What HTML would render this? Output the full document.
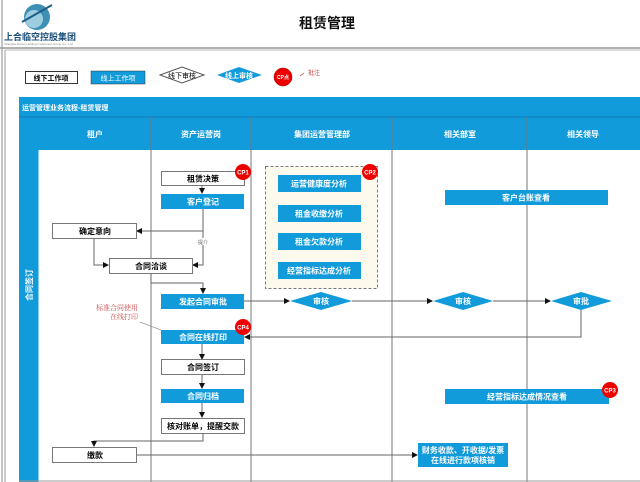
<!DOCTYPE html>
<html><head><meta charset="utf-8"><style>
body{margin:0;background:#fff;}
svg{display:block;font-family:"Liberation Sans","Noto Sans CJK SC",sans-serif;}
</style></head><body>
<svg width="640" height="482" viewBox="0 0 640 482" xmlns="http://www.w3.org/2000/svg">
<defs>
<marker id="a" markerWidth="6" markerHeight="6" refX="5" refY="3" orient="auto" markerUnits="userSpaceOnUse"><path d="M0,0 L6,3 L0,6z" fill="#111"/></marker>
</defs>
<rect width="640" height="482" fill="#fff"/>
<!-- outer borders -->
<line x1="2" y1="0" x2="2" y2="482" stroke="#888"/>
<line x1="0" y1="48" x2="640" y2="48" stroke="#999" stroke-width="1.5"/>
<line x1="5" y1="50" x2="5" y2="482" stroke="#999"/>
<line x1="5" y1="50" x2="640" y2="50" stroke="#bbb"/>
<!-- logo -->
<circle cx="37" cy="17" r="13" fill="#3d8fb5"/>
<circle cx="34" cy="19" r="9" fill="#9fcde0"/>
<path d="M22,22 L52,5" stroke="#1b5f86" stroke-width="2"/>
<text x="4" y="40" font-size="9" fill="#1b4f7a" font-weight="bold">上合临空控股集团</text>
<text x="4" y="45" font-size="3" fill="#888">Shanghe Airport Holding Investment Group Co., Ltd.</text>
<text x="327" y="28" font-size="14" font-weight="bold" text-anchor="middle" fill="#111">租赁管理</text>
<!-- legend -->
<rect x="25.5" y="71.5" width="52" height="12" fill="#fff" stroke="#333"/>
<text x="51" y="80.5" font-size="7" text-anchor="middle" font-weight="bold">线下工作项</text>
<rect x="91" y="71" width="54" height="13" fill="#129bdb" stroke="#333" stroke-width=".5"/>
<text x="118" y="80.5" font-size="7" text-anchor="middle" fill="#fff">线上工作项</text>
<path d="M160,75 L182,67 L204,75 L182,83z" fill="#fff" stroke="#555"/>
<text x="182" y="78" font-size="7" text-anchor="middle">线下审核</text>
<path d="M217,75 L239,67 L262,75 L239,83z" fill="#129bdb"/>
<text x="239" y="78" font-size="7" text-anchor="middle" fill="#fff" font-weight="bold">线上审核</text>
<circle cx="283" cy="77" r="9" fill="#e00" stroke="#900" stroke-width=".5"/>
<text x="283" y="79" font-size="5" text-anchor="middle" fill="#fff" font-weight="bold">CP点</text>
<line x1="300" y1="76" x2="304" y2="73" stroke="#c66" stroke-width=".8"/>
<text x="308" y="75" font-size="6" fill="#c44">批注</text>
<!-- main frame -->
<rect x="19" y="97" width="621" height="20" fill="#129bdb"/>
<text x="22" y="110" font-size="7" fill="#fff" font-weight="bold">运营管理业务流程-租赁管理</text>
<rect x="19" y="117" width="19" height="365" fill="#129bdb"/>
<rect x="38" y="117" width="602" height="33" fill="#129bdb"/>
<line x1="19" y1="117" x2="640" y2="117" stroke="#0b6fa3" stroke-width=".7"/>
<text transform="translate(32,285) rotate(-90)" font-size="8" fill="#fff" font-weight="bold" text-anchor="middle">合同签订</text>
<g font-size="8" fill="#fff" font-weight="bold" text-anchor="middle">
<text x="95" y="137">租户</text>
<text x="201" y="137">资产运营岗</text>
<text x="322" y="137">集团运营管理部</text>
<text x="460" y="137">相关部室</text>
<text x="583" y="137">相关领导</text>
</g>
<g stroke="#777" stroke-width="1">
<line x1="151" y1="117" x2="151" y2="482"/>
<line x1="251" y1="117" x2="251" y2="482"/>
<line x1="392" y1="117" x2="392" y2="482"/>
<line x1="527" y1="117" x2="527" y2="482"/>
<line x1="38" y1="150" x2="38" y2="482" stroke="#129bdb"/>
<line x1="19" y1="481" x2="640" y2="481" stroke="#999"/>
</g>
<!-- dashed group -->
<rect x="265.5" y="166.5" width="112" height="122" fill="#fdf9ec" stroke="#777" stroke-dasharray="3,2"/>
<!-- connectors -->
<g stroke="#666" stroke-width="1" fill="none">
<line x1="202" y1="185" x2="202" y2="193" marker-end="url(#a)"/>
<polyline points="203,209 203,265 193,265" marker-end="url(#a)"/>
<line x1="203" y1="231" x2="137" y2="231" marker-end="url(#a)"/>
<polyline points="94,238 94,265 108,265" marker-end="url(#a)"/>
<polyline points="151,273 151,283 203,283 203,293" marker-end="url(#a)"/>
<line x1="244" y1="301" x2="289" y2="301" marker-end="url(#a)"/>
<line x1="352" y1="301" x2="432" y2="301" marker-end="url(#a)"/>
<line x1="493" y1="301" x2="550" y2="301" marker-end="url(#a)"/>
<polyline points="581,310 581,337 245,337" marker-end="url(#a)"/>
<line x1="202" y1="344" x2="202" y2="359" marker-end="url(#a)"/>
<line x1="202" y1="374" x2="202" y2="388" marker-end="url(#a)"/>
<line x1="202" y1="403" x2="202" y2="417" marker-end="url(#a)"/>
<polyline points="203,433 203,441 94,441 94,446" marker-end="url(#a)"/>
<line x1="136" y1="455" x2="417" y2="455" marker-end="url(#a)"/>
<line x1="140" y1="322" x2="161" y2="330" stroke="#999" stroke-width=".7"/>
</g>
<rect x="196" y="238" width="14" height="7" fill="#fff"/>
<text x="203" y="244" font-size="5" text-anchor="middle" fill="#666">提介</text>
<text x="138" y="310" font-size="7" text-anchor="end" fill="#d04a4a" font-family="Liberation Serif,'Noto Serif CJK SC',serif">标准合同使用</text>
<text x="138" y="319" font-size="7" text-anchor="end" fill="#d04a4a" font-family="Liberation Serif,'Noto Serif CJK SC',serif">在线打印</text>
<!-- nodes -->
<g font-size="8" font-weight="bold" text-anchor="middle">
<rect x="161.5" y="171.5" width="83" height="14" fill="#fff" stroke="#777"/><text x="203" y="181.5">租赁决策</text>
<rect x="161" y="194" width="83" height="15" fill="#129bdb"/><text x="203" y="204.5" fill="#fff">客户登记</text>
<rect x="52.5" y="223.5" width="84" height="15" fill="#fff" stroke="#777"/><text x="95" y="234">确定意向</text>
<rect x="109.5" y="258.5" width="83" height="15" fill="#fff" stroke="#777"/><text x="151" y="269">合同洽谈</text>
<rect x="161" y="294" width="83" height="15" fill="#129bdb"/><text x="203" y="304.5" fill="#fff">发起合同审批</text>
<rect x="161" y="330" width="83" height="14" fill="#129bdb"/><text x="203" y="340" fill="#fff">合同在线打印</text>
<rect x="161.5" y="359.5" width="83" height="15" fill="#fff" stroke="#777"/><text x="203" y="370">合同签订</text>
<rect x="161" y="389" width="83" height="14" fill="#129bdb"/><text x="203" y="399" fill="#fff">合同归档</text>
<rect x="161.5" y="418.5" width="83" height="15" fill="#fff" stroke="#777"/><text x="203" y="429">核对账单，提醒交款</text>
<rect x="52.5" y="447.5" width="84" height="15" fill="#fff" stroke="#777"/><text x="95" y="458">缴款</text>
<rect x="418" y="443" width="90" height="24" fill="#129bdb"/>
<text x="463" y="453" fill="#fff">财务收款、开收据/发票</text>
<text x="463" y="463" fill="#fff">在线进行款项核销</text>
<rect x="278" y="175" width="83" height="17" fill="#129bdb"/><text x="319" y="186.5" fill="#fff">运营健康度分析</text>
<rect x="278" y="205" width="83" height="17" fill="#129bdb"/><text x="319" y="216.5" fill="#fff">租金收缴分析</text>
<rect x="278" y="233" width="83" height="17" fill="#129bdb"/><text x="319" y="244.5" fill="#fff">租金欠款分析</text>
<rect x="278" y="262" width="83" height="17" fill="#129bdb"/><text x="319" y="273.5" fill="#fff">经营指标达成分析</text>
<rect x="445" y="190" width="163" height="15" fill="#129bdb"/><text x="526" y="200.5" fill="#fff">客户台账查看</text>
<rect x="445" y="389" width="164" height="15" fill="#129bdb"/><text x="527" y="399.5" fill="#fff">经营指标达成情况查看</text>
<path d="M290,301 L321,292 L352,301 L321,310z" fill="#129bdb"/><text x="321" y="304" fill="#fff">审核</text>
<path d="M433,301 L463,292 L493,301 L463,310z" fill="#129bdb"/><text x="463" y="304" fill="#fff">审核</text>
<path d="M551,301 L581,292 L612,301 L581,310z" fill="#129bdb"/><text x="581" y="304" fill="#fff">审批</text>
</g>
<!-- CP badges -->
<g font-size="6" font-weight="bold" fill="#fff" text-anchor="middle">
<circle cx="243" cy="172" r="8" fill="#e00"/><text x="243" y="174.5">CP1</text>
<circle cx="370" cy="172" r="8" fill="#e00"/><text x="370" y="174.5">CP2</text>
<circle cx="610" cy="390" r="8" fill="#e00"/><text x="610" y="392.5">CP3</text>
<circle cx="243" cy="327" r="8" fill="#e00"/><text x="243" y="329.5">CP4</text>
</g>
</svg>
</body></html>
